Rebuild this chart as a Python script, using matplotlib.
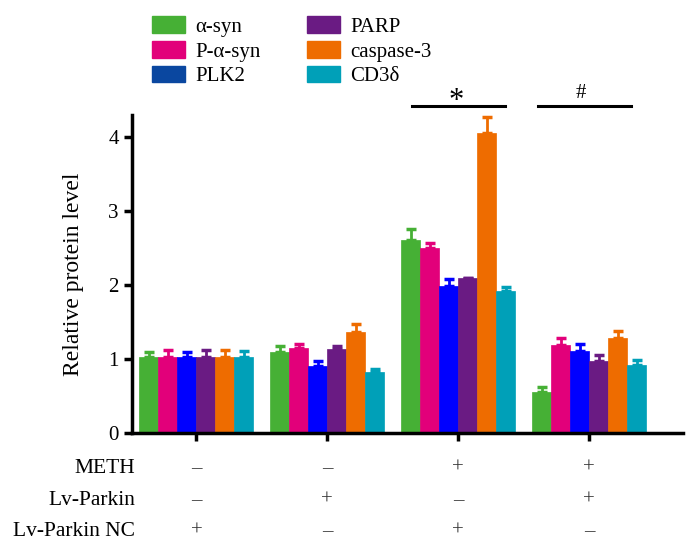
import matplotlib
matplotlib.use("Agg")
import matplotlib.pyplot as plt
from matplotlib.patches import Patch
import numpy as np

plt.rcParams['font.family'] = ['Liberation Serif', 'DejaVu Serif']

# groups (x positions) and series
groups = ['g1', 'g2', 'g3', 'g4']
series = ['α-syn', 'P-α-syn', 'PLK2', 'PARP', 'caspase-3', 'CD3δ']
means = {
    'α-syn':     [1.03, 1.09, 2.60, 0.56],
    'P-α-syn':   [1.03, 1.15, 2.50, 1.19],
    'PLK2':      [1.03, 0.91, 1.99, 1.11],
    'PARP':      [1.03, 1.13, 2.09, 0.98],
    'caspase-3': [1.03, 1.36, 4.05, 1.28],
    'CD3δ':      [1.03, 0.82, 1.92, 0.92],
}
errs = {
    'α-syn':     [0.06, 0.09, 0.15, 0.06],
    'P-α-syn':   [0.09, 0.05, 0.07, 0.10],
    'PLK2':      [0.06, 0.07, 0.09, 0.09],
    'PARP':      [0.09, 0.05, 0.00, 0.07],
    'caspase-3': [0.09, 0.11, 0.22, 0.10],
    'CD3δ':      [0.08, 0.05, 0.05, 0.07],
}
bar_colors = ['#46b035', '#e2007a', '#0000ff', '#6a1b83', '#ee6c00', '#00a0b8']
legend_colors = ['#46b035', '#e2007a', '#0a47a0', '#6a1b83', '#ee6c00', '#00a0b8']

row_labels = ['METH', 'Lv-Parkin', 'Lv-Parkin NC']
row_signs = [['–', '–', '+', '+'],
             ['–', '+', '–', '+'],
             ['+', '–', '+', '–']]

fig = plt.figure(figsize=(6.91, 5.40), dpi=100)
ax = fig.add_axes([0.191, 0.1976, 0.797, 0.5894])

x = np.arange(len(groups))
w = 0.145
for i, s in enumerate(series):
    pos = x + (i - 2.5) * w
    ax.bar(pos, means[s], width=w, color=bar_colors[i], edgecolor=bar_colors[i],
           linewidth=0.5, zorder=2)
    ax.errorbar(pos, means[s], yerr=[np.zeros(4), errs[s]], fmt='none',
                ecolor=bar_colors[i], elinewidth=2, capsize=3.8, capthick=2.5, zorder=1)

ax.set_xlim(-0.492, 3.714)
ax.set_ylim(0, 4.29)
ax.set_yticks([0, 1, 2, 3, 4])
ax.set_xticks(x)
ax.set_xticklabels([])
for sp in ['top', 'right']:
    ax.spines[sp].set_visible(False)
for sp in ['left', 'bottom']:
    ax.spines[sp].set_linewidth(2.5)
ax.tick_params(axis='both', width=2.5, length=6, labelsize=15, direction='out')
ax.set_ylabel('Relative protein level', fontsize=17)
ax.yaxis.set_label_coords(-0.088, 0.5)

# significance marks
ax.plot([1.645, 2.355], [4.41, 4.41], color='black', lw=2.2, clip_on=False)
ax.text(1.98, 4.28, '*', ha='center', va='bottom', fontsize=22)
ax.plot([2.607, 3.317], [4.41, 4.41], color='black', lw=2.2, clip_on=False)
ax.text(2.935, 4.45, '#', ha='center', va='bottom', fontsize=15)

# treatment table
trans = ax.get_xaxis_transform()
row_y = [-0.11, -0.21, -0.308]
for r, lab in enumerate(row_labels):
    ax.text(-0.47, row_y[r], lab, transform=trans, ha='right', va='center',
            fontsize=15.5, clip_on=False)
    for j in range(len(groups)):
        ax.text(x[j], row_y[r], row_signs[r][j], transform=trans, ha='center',
                va='center', fontsize=15, color='#333333', clip_on=False)

handles = [Patch(facecolor=c, edgecolor=c) for c in legend_colors]
ax.legend(handles, series, ncol=2, loc='upper left', bbox_to_anchor=(0.036, 1.31),
          frameon=False, fontsize=15, handlelength=1.6, handleheight=0.85,
          handletextpad=0.5, columnspacing=2.2, labelspacing=0.2,
          borderaxespad=0, borderpad=0)

fig.savefig('out.png', dpi=100)
